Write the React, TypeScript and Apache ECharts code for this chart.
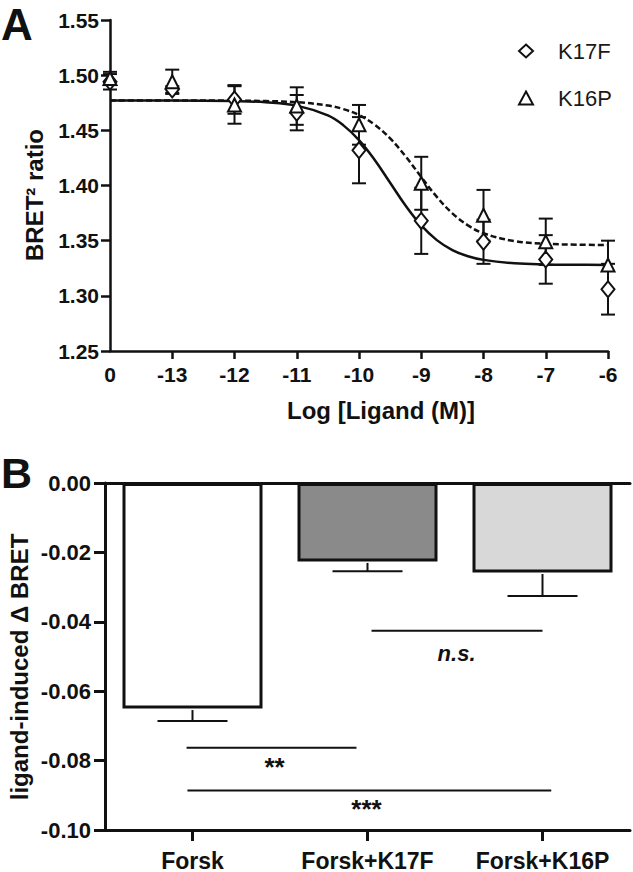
import React, { useEffect, useRef } from 'react';
import * as echarts from 'echarts';

const FONT = '"Liberation Sans", Arial, Helvetica, sans-serif';

// ---------- Panel A data ----------
const doseX = [-14, -13, -12, -11, -10, -9, -8, -7, -6];
const doseTickLabels = ['0', '-13', '-12', '-11', '-10', '-9', '-8', '-7', '-6'];
const k17fMean = [1.494, 1.487, 1.478, 1.466, 1.432, 1.368, 1.349, 1.333, 1.306];
const k17fSem = [0.007, 0.003, 0.013, 0.016, 0.030, 0.030, 0.020, 0.022, 0.023];
const k16pMean = [1.497, 1.494, 1.473, 1.472, 1.455, 1.402, 1.373, 1.349, 1.328];
const k16pSem = [0.006, 0.011, 0.017, 0.017, 0.018, 0.024, 0.023, 0.021, 0.022];

// fitted curves
const fitX = [-14, -13, -12, -11.5, -11, -10.5, -10.25, -10, -9.75, -9.5, -9.25, -9, -8.75, -8.5, -8.25, -8, -7.5, -7, -6.5, -6];
const k17fFit = [1.477, 1.477, 1.4765, 1.4755, 1.4724, 1.4635, 1.4545, 1.4412, 1.4234, 1.4025, 1.3816, 1.3638, 1.3505, 1.3415, 1.3359, 1.3326, 1.3295, 1.3285, 1.3282, 1.328];
const k16pFit = [1.477, 1.477, 1.4769, 1.4765, 1.4755, 1.4725, 1.4692, 1.4638, 1.4552, 1.4427, 1.4263, 1.4077, 1.3897, 1.3748, 1.3639, 1.3567, 1.3496, 1.3472, 1.3464, 1.3461];

// ---------- Panel B data ----------
const barCategories = ['Forsk', 'Forsk+K17F', 'Forsk+K16P'];
const barValues = [-0.065, -0.0226, -0.0258];
const barSem = [0.0036, 0.0028, 0.0068];
const barColors = ['#ffffff', '#8a8a8a', '#d8d8d8'];

// significance brackets: [fromCategory, toCategory, yValue]
const sigLines = [
  [1.023, 2.0, -0.0426],
  [-0.034, 0.937, -0.0763],
  [-0.029, 2.05, -0.0886],
];
const sigTexts = ['n.s.', '**', '***'];
const sigTextPos = [
  [1.509, -0.0492],
  [0.469, -0.0818],
  [0.994, -0.094],
];

export default function App() {
  const ref = useRef<HTMLDivElement>(null);

  useEffect(() => {
    const chart = echarts.init(ref.current!, null, { renderer: 'svg' });

    const errData = (mean: number[], sem: number[]) =>
      doseX.map((x, i) => [x, mean[i] - sem[i], mean[i] + sem[i]]);

    const errRender = (params: any, api: any) => {
      const x = api.value(0);
      const lo = api.coord([x, api.value(1)]);
      const hi = api.coord([x, api.value(2)]);
      const w = 7;
      const st = { stroke: '#111', lineWidth: 2 };
      return {
        type: 'group',
        children: [
          { type: 'line', shape: { x1: lo[0], y1: lo[1], x2: hi[0], y2: hi[1] }, style: st },
          { type: 'line', shape: { x1: lo[0] - w, y1: lo[1], x2: lo[0] + w, y2: lo[1] }, style: st },
          { type: 'line', shape: { x1: hi[0] - w, y1: hi[1], x2: hi[0] + w, y2: hi[1] }, style: st },
        ],
      };
    };

    const markerStyle = { color: '#ffffff', borderColor: '#111', borderWidth: 2, opacity: 1 };

    const option: any = {
      animation: false,
      backgroundColor: '#ffffff',
      textStyle: { fontFamily: FONT },
      legend: {
        orient: 'vertical',
        left: 513,
        top: 35,
        itemWidth: 14,
        itemHeight: 13,
        itemGap: 25,
        data: [
          { name: 'K17F', icon: 'diamond' },
          { name: 'K16P', icon: 'triangle' },
        ],
        itemStyle: { color: '#ffffff', borderColor: '#111', borderWidth: 2, opacity: 1 },
        textStyle: { fontFamily: FONT, fontSize: 22, color: '#1a1a1a', padding: [0, 0, 0, 20] },
      },
      grid: [
        { left: 110, top: 20, width: 498, height: 331 },
        { left: 105, top: 483, width: 525, height: 350 },
      ],
      xAxis: [
        {
          type: 'value',
          gridIndex: 0,
          min: -14,
          max: -6,
          interval: 1,
          axisLine: { show: true, onZero: false, lineStyle: { color: '#111', width: 2.5 } },
          axisTick: { show: true, length: 8, lineStyle: { color: '#111', width: 2.5 }, customValues: doseX.slice(1) },
          axisLabel: {
            customValues: doseX,
            formatter: (v: number) => {
              const i = doseX.indexOf(v);
              return i >= 0 ? doseTickLabels[i] : '';
            },
            color: '#111',
            fontFamily: FONT,
            fontWeight: 'bold',
            fontSize: 21,
            margin: 13,
          },
          splitLine: { show: false },
        },
        {
          type: 'category',
          gridIndex: 1,
          data: barCategories,
          boundaryGap: true,
          axisLine: { show: true, onZero: false, lineStyle: { color: '#111', width: 3 } },
          axisTick: { show: true, alignWithLabel: true, length: 11, lineStyle: { color: '#111', width: 3 } },
          axisLabel: { interval: 0, hideOverlap: false, color: '#111', fontFamily: FONT, fontWeight: 'bold', fontSize: 23, margin: 19 },
          splitLine: { show: false },
        },
        {
          type: 'category',
          gridIndex: 1,
          position: 'top',
          data: barCategories,
          axisLine: { show: true, onZero: false, lineStyle: { color: '#111', width: 3 } },
          axisTick: { show: false },
          axisLabel: { show: false },
        },
      ],
      yAxis: [
        {
          type: 'value',
          gridIndex: 0,
          min: 1.25,
          max: 1.55,
          interval: 0.05,
          axisLine: { show: true, lineStyle: { color: '#111', width: 2.5 } },
          axisTick: { show: true, length: 9, lineStyle: { color: '#111', width: 2.5 } },
          axisLabel: {
            formatter: (v: number) => v.toFixed(2),
            color: '#111',
            fontFamily: FONT,
            fontWeight: 'bold',
            fontSize: 21,
            margin: 11,
          },
          splitLine: { show: false },
        },
        {
          type: 'value',
          gridIndex: 1,
          min: -0.1,
          max: 0,
          interval: 0.02,
          axisLine: { show: true, lineStyle: { color: '#111', width: 3 } },
          axisTick: { show: true, length: 11, lineStyle: { color: '#111', width: 3 } },
          axisLabel: {
            formatter: (v: number) => (Math.abs(v) < 1e-9 ? '0.00' : v.toFixed(2)),
            color: '#111',
            fontFamily: FONT,
            fontWeight: 'bold',
            fontSize: 22,
            margin: 14,
          },
          splitLine: { show: false },
        },
      ],
      graphic: [
        { type: 'text', left: 1, top: 2, style: { text: 'A', font: `bold 44px ${FONT}`, fill: '#111' } },
        { type: 'text', left: 1, top: 451, style: { text: 'B', font: `bold 43px ${FONT}`, fill: '#111' } },
        {
          type: 'text', x: 34, y: 195, rotation: Math.PI / 2,
          style: { text: 'BRET² ratio', font: `bold 24px ${FONT}`, fill: '#111', textAlign: 'center', textVerticalAlign: 'middle', align: 'center', verticalAlign: 'middle' },
        },
        {
          type: 'text', x: 381, y: 410,
          style: { text: 'Log [Ligand (M)]', font: `bold 24px ${FONT}`, fill: '#111', textAlign: 'center', textVerticalAlign: 'middle', align: 'center', verticalAlign: 'middle' },
        },
        {
          type: 'text', x: 19, y: 667, rotation: Math.PI / 2,
          style: { text: 'ligand-induced Δ BRET', font: `bold 24px ${FONT}`, fill: '#111', textAlign: 'center', textVerticalAlign: 'middle', align: 'center', verticalAlign: 'middle' },
        },
      ],
      series: [
        {
          name: 'K17F err', type: 'custom', xAxisIndex: 0, yAxisIndex: 0,
          renderItem: errRender, data: errData(k17fMean, k17fSem), z: 2,
        },
        {
          name: 'K16P err', type: 'custom', xAxisIndex: 0, yAxisIndex: 0,
          renderItem: errRender, data: errData(k16pMean, k16pSem), z: 2,
        },
        {
          name: 'K17F fit', type: 'line', xAxisIndex: 0, yAxisIndex: 0,
          data: fitX.map((x, i) => [x, k17fFit[i]]),
          showSymbol: false, smooth: 0.4, lineStyle: { color: '#111', width: 2.5 }, z: 3,
        },
        {
          name: 'K16P fit', type: 'line', xAxisIndex: 0, yAxisIndex: 0,
          data: fitX.map((x, i) => [x, k16pFit[i]]),
          showSymbol: false, smooth: 0.4, lineStyle: { color: '#111', width: 2.5, type: [6, 3] }, z: 3,
        },
        {
          name: 'K17F', type: 'scatter', xAxisIndex: 0, yAxisIndex: 0,
          data: doseX.map((x, i) => [x, k17fMean[i]]),
          symbol: 'diamond', symbolSize: [13, 16], itemStyle: markerStyle, z: 4,
        },
        {
          name: 'K16P', type: 'scatter', xAxisIndex: 0, yAxisIndex: 0,
          data: doseX.map((x, i) => [x, k16pMean[i]]),
          symbol: 'triangle', symbolSize: [13, 13], itemStyle: markerStyle, z: 5,
        },
        {
          name: 'bars', type: 'bar', xAxisIndex: 1, yAxisIndex: 1,
          barWidth: '80%',
          data: barValues.map((v, i) => ({
            value: v,
            itemStyle: { color: barColors[i], borderColor: '#111', borderWidth: 3, opacity: 1 },
          })),
          z: 2,
        },
        {
          name: 'bar err', type: 'custom', xAxisIndex: 1, yAxisIndex: 1,
          data: barValues.map((v, i) => [i, v, v - barSem[i]]),
          renderItem: (params: any, api: any) => {
            const i = api.value(0);
            const top = api.coord([i, api.value(1)]);
            const bot = api.coord([i, api.value(2)]);
            const w = 35;
            const st = { stroke: '#111', lineWidth: 2 };
            return {
              type: 'group',
              children: [
                { type: 'line', shape: { x1: top[0], y1: top[1] + 1.5, x2: bot[0], y2: bot[1] }, style: st },
                { type: 'line', shape: { x1: bot[0] - w, y1: bot[1], x2: bot[0] + w, y2: bot[1] }, style: st },
              ],
            };
          },
          z: 3,
        },
        {
          name: 'sig', type: 'custom', xAxisIndex: 1, yAxisIndex: 1,
          data: sigLines.map((s, i) => [s[0], s[1], s[2], sigTextPos[i][0], sigTextPos[i][1], i]),
          renderItem: (params: any, api: any) => {
            const y = api.value(2);
            const c0 = api.coord([0, y]);
            const c1 = api.coord([1, y]);
            const band = c1[0] - c0[0];
            const px = (f: number) => c0[0] + f * band;
            const ty = api.coord([0, api.value(4)])[1];
            const idx = api.value(5);
            const txt = sigTexts[idx];
            const italic = txt === 'n.s.';
            return {
              type: 'group',
              children: [
                { type: 'line', shape: { x1: px(api.value(0)), y1: c0[1], x2: px(api.value(1)), y2: c0[1] }, style: { stroke: '#111', lineWidth: 2 } },
                {
                  type: 'text', x: px(api.value(3)), y: ty,
                  style: {
                    text: txt,
                    font: `${italic ? 'italic ' : ''}bold ${italic ? 22 : 26}px ${FONT}`,
                    fill: '#111', textAlign: 'center', textVerticalAlign: 'middle', align: 'center', verticalAlign: 'middle',
                  },
                },
              ],
            };
          },
          z: 4,
        },
      ],
    };

    chart.setOption(option);
    return () => chart.dispose();
  }, []);

  return (
    <div
      ref={ref}
      style={{ position: 'absolute', left: 0, top: 0, width: 633, height: 872, background: '#fff' }}
    />
  );
}
